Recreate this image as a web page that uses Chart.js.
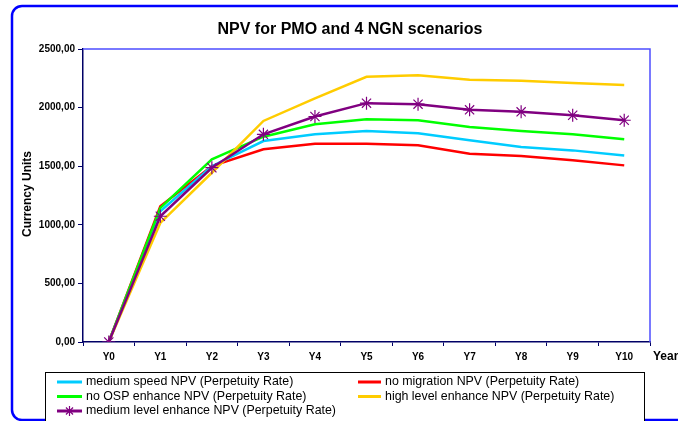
<!DOCTYPE html>
<html>
<head>
<meta charset="utf-8">
<script src="https://cdn.jsdelivr.net/npm/chart.js@4.4.0/dist/chart.umd.min.js"></script>
<style>
  html, body { margin: 0; padding: 0; background: #ffffff; }
  canvas { display: block; }
</style>
</head>
<body>
<canvas id="npvChart" width="678" height="421"></canvas>
<script>
  // datos
  const years = ['Y0', 'Y1', 'Y2', 'Y3', 'Y4', 'Y5', 'Y6', 'Y7', 'Y8', 'Y9', 'Y10'];
  const mediumSpeed = [0, 1116, 1500, 1715, 1772, 1801, 1781, 1721, 1664, 1635, 1592];
  const noMigration = [0, 1158, 1501, 1644, 1692, 1692, 1678, 1607, 1587, 1550, 1507];
  const noOspEnhance = [0, 1144, 1558, 1752, 1858, 1901, 1892, 1835, 1801, 1772, 1729];
  const highLevel = [0, 1016, 1444, 1886, 2078, 2263, 2277, 2237, 2229, 2209, 2192];
  const mediumLevel = [0, 1073, 1487, 1772, 1924, 2038, 2029, 1981, 1964, 1935, 1892];
  const yTicks = [0, 500, 1000, 1500, 2000, 2500];

  const fontFam = '"Liberation Sans", Arial, sans-serif';
  const navy = '#000066';
  const blue = '#0000ff';

  // dibujo de marco, títulos y leyenda
  const decor = {
    id: 'decor',
    beforeDraw(chart) {
      const c = chart.ctx;
      c.save();
      c.strokeStyle = blue;
      c.lineWidth = 2.5;
      c.beginPath();
      c.roundRect(12, 6, 700, 414, 10);
      c.stroke();
      c.restore();
    },
    afterDraw(chart) {
      const c = chart.ctx;
      const a = chart.chartArea;
      c.save();
      // borde superior y derecho del área
      c.strokeStyle = '#4d4dff';
      c.lineWidth = 1.5;
      c.beginPath();
      c.moveTo(a.left, a.top);
      c.lineTo(a.right, a.top);
      c.lineTo(a.right, a.bottom);
      c.stroke();

      c.fillStyle = '#000000';
      c.textBaseline = 'middle';
      c.textAlign = 'center';
      c.font = 'bold 16px ' + fontFam;
      c.fillText('NPV for PMO and 4 NGN scenarios', 350, 30);

      c.font = 'bold 12px ' + fontFam;
      c.textAlign = 'left';
      c.fillText('Years', 653, 357);

      c.save();
      c.translate(28, 194);
      c.rotate(-Math.PI / 2);
      c.textAlign = 'center';
      c.fillText('Currency Units', 0, 0);
      c.restore();

      // leyenda
      c.fillStyle = '#ffffff';
      c.fillRect(45.5, 372.5, 599, 60);
      c.strokeStyle = '#000000';
      c.lineWidth = 1;
      c.strokeRect(45.5, 372.5, 599, 60);
      const cols = [{ l: 57, r: 82, t: 86 }, { l: 358, r: 381, t: 385 }];
      const rows = [382, 396.5, 411];
      c.font = '12.4px ' + fontFam;
      c.textAlign = 'left';
      chart.data.datasets.forEach((ds, i) => {
        const col = cols[i % 2];
        const y = rows[Math.floor(i / 2)];
        c.strokeStyle = ds.borderColor;
        c.lineWidth = 3;
        c.beginPath();
        c.moveTo(col.l, y);
        c.lineTo(col.r, y);
        c.stroke();
        if (ds.pointStyle === 'star') {
          c.lineWidth = 1.2;
          Chart.helpers.drawPoint(c, { pointStyle: 'star', radius: 5, borderWidth: 1.2 }, (col.l + col.r) / 2, y);
        }
        c.fillStyle = '#000000';
        c.fillText(ds.label, col.t, y);
      });
      c.restore();
    }
  };

  const line = (label, data, color, order) => ({
    label: label,
    data: data,
    borderColor: color,
    backgroundColor: color,
    borderWidth: 2.5,
    pointRadius: 0,
    tension: 0,
    order: order
  });

  const datasets = [
    line('medium speed NPV (Perpetuity Rate)', mediumSpeed, '#00ccff', 3),
    line('no migration NPV (Perpetuity Rate)', noMigration, '#ff0000', 4),
    line('no OSP enhance NPV (Perpetuity Rate)', noOspEnhance, '#00ff00', 2),
    line('high level enhance NPV (Perpetuity Rate)', highLevel, '#ffcc00', 1),
    Object.assign(line('medium level enhance NPV (Perpetuity Rate)', mediumLevel, '#800080', 0), {
      pointStyle: 'star',
      pointRadius: 6.5,
      pointBorderWidth: 1.2,
      pointBorderColor: '#800080'
    })
  ];

  const ctx = document.getElementById('npvChart').getContext('2d');
  new Chart(ctx, {
    type: 'line',
    data: { labels: years, datasets: datasets },
    plugins: [decor],
    options: {
      responsive: false,
      animation: false,
      layout: { padding: { top: 49, right: 28, left: 0, bottom: 0 } },
      plugins: {
        legend: { display: false },
        title: { display: false },
        tooltip: { enabled: false }
      },
      scales: {
        x: {
          offset: true,
          afterFit: (s) => { s.height = 79; },
          border: { color: navy, width: 1.5 },
          grid: { offset: true, drawOnChartArea: false, drawTicks: true, tickLength: 4, color: navy },
          ticks: { color: '#000000', padding: 5, maxRotation: 0, font: { family: fontFam, size: 10, weight: 'bold' } }
        },
        y: {
          min: 0,
          max: 2500,
          afterFit: (s) => { s.width = 83; },
          afterBuildTicks: (s) => { s.ticks = yTicks.map(v => ({ value: v })); },
          border: { color: navy, width: 1.5 },
          grid: { drawOnChartArea: false, drawTicks: true, tickLength: 5, color: navy },
          ticks: {
            color: '#000000',
            padding: 3,
            font: { family: fontFam, size: 10, weight: 'bold' },
            callback: (v) => v.toFixed(2).replace('.', ',')
          }
        }
      }
    }
  });
</script>
</body>
</html>
